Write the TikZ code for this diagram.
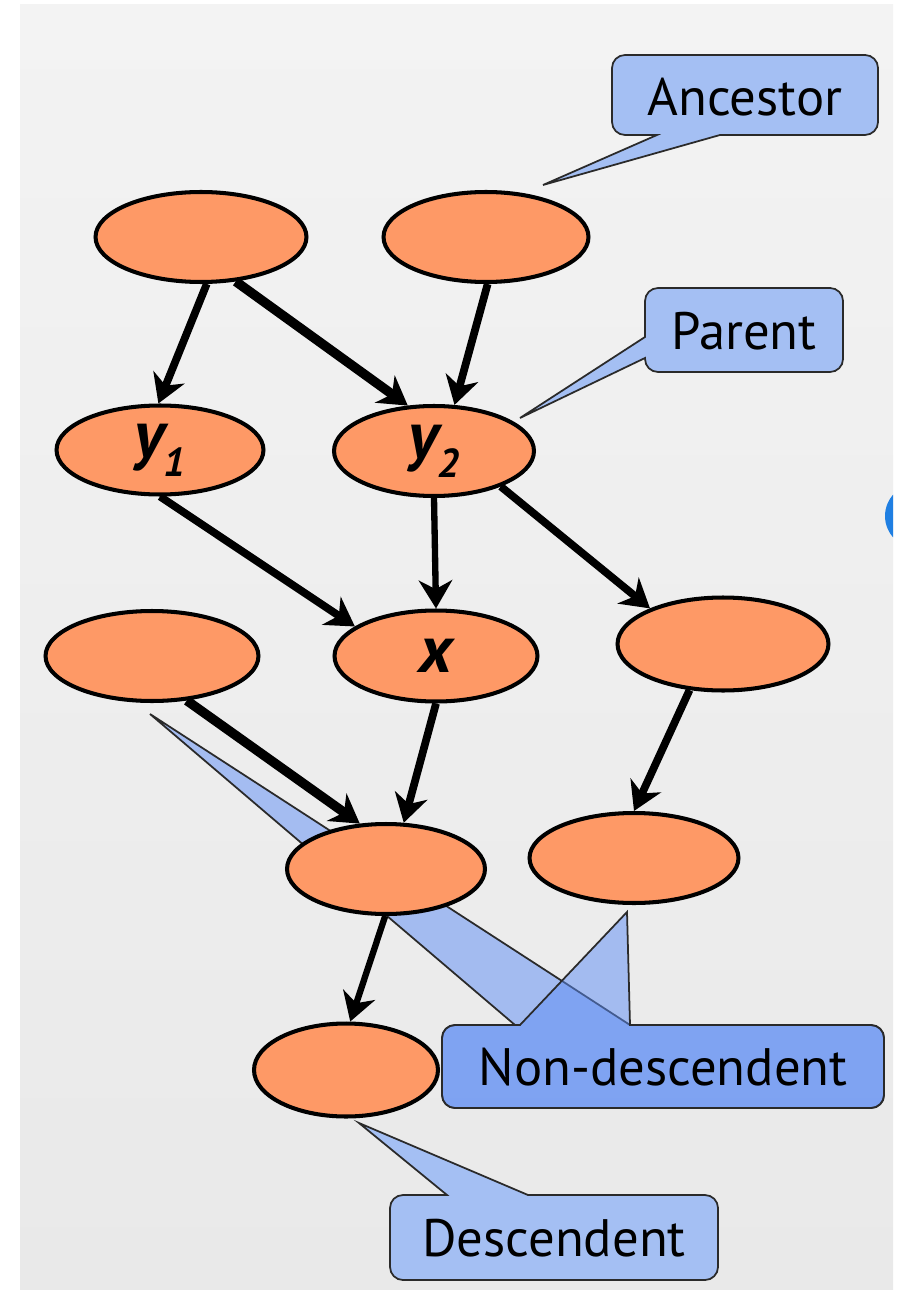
\documentclass[tikz,border=0pt]{standalone}
\usepackage{fontspec}
\setmainfont{PT Sans}
\usetikzlibrary{shapes.geometric,arrows.meta}
\definecolor{panelTop}{HTML}{F3F3F3}
\definecolor{panelBot}{HTML}{E9E9E9}
\definecolor{nodefill}{HTML}{FE9966}
\definecolor{callfill}{RGB}{164,191,243}
\definecolor{callblue}{RGB}{92,140,245}
\definecolor{calledge}{HTML}{2A2A2A}
\definecolor{dotblue}{HTML}{1F7FE2}

\begin{document}
\begin{tikzpicture}[x=0.02cm,y=-0.02cm,
  var/.style={ellipse, draw=black, line width=2.3pt, fill=nodefill, inner sep=0pt,
    font=\fontsize{38}{38}\selectfont\bfseries\itshape},
  arr/.style={line width=4.4pt, -{Stealth[length=16pt,width=19pt,inset=5pt]}},
  arrthick/.style={arr, line width=5.4pt},
  arrthin/.style={arr, line width=3.6pt},
  callout/.style={draw=calledge, line width=1pt, fill=callfill},
  ndcallout/.style={draw=calledge, line width=1pt, fill=callblue, fill opacity=0.5},
  tag/.style={font=\fontsize{30}{30}\selectfont, inner sep=0pt}
]
\useasboundingbox (0,0) rectangle (899,1290);
\fill[white] (0,0) rectangle (899,1290);
\shade[top color=panelTop, bottom color=panelBot] (20,5) rectangle (893,1290);

% blue marker cut off by the panel edge
\begin{scope}
  \clip (20,5) rectangle (893,1290);
  \fill[dotblue] (917,516) circle[radius=32];
\end{scope}

% callout balloons (drawn first, so the ellipses lie on top)
\draw[callout] (543,185) -- (720,135) [rounded corners=0.26cm] -- (878,135)
  -- (878,55) -- (612,55) -- (612,135) [sharp corners] -- (657,135) -- cycle;
\draw[callout] (520,418) -- (645,358) [rounded corners=0.26cm] -- (645,372)
  -- (843,372) -- (843,288) -- (645,288) [sharp corners] -- (645,337) -- cycle;
\draw[callout] (359,1123) -- (528,1195) [rounded corners=0.26cm] -- (718,1195)
  -- (718,1280) -- (390,1280) -- (390,1195) [sharp corners] -- (447,1195) -- cycle;
\draw[ndcallout] (150,714) -- (630,1025) [rounded corners=0.26cm] -- (884,1025)
  -- (884,1108) -- (442,1108) -- (442,1025) [sharp corners] -- (515,1025) -- cycle;
\draw[ndcallout] (627,912) -- (630,1025) [rounded corners=0.26cm] -- (884,1025)
  -- (884,1108) -- (442,1108) -- (442,1025) [sharp corners] -- (520,1025) -- cycle;

% variables
\node[var, minimum width=4.22cm, minimum height=1.80cm] (a1) at (201,237) {};
\node[var, minimum width=4.10cm, minimum height=1.80cm] (a2) at (486,237) {};
\node[var, minimum width=4.14cm, minimum height=1.78cm] (y1) at (160,450)
  {y\kern-1pt\raisebox{-11pt}{\fontsize{23}{23}\selectfont 1}};
\node[var, minimum width=4.00cm, minimum height=1.80cm] (y2) at (434,451)
  {y\kern-1pt\raisebox{-11pt}{\fontsize{23}{23}\selectfont 2}};
\node[var, minimum width=4.26cm, minimum height=1.80cm] (l) at (152,656) {};
\node[var, minimum width=4.06cm, minimum height=1.82cm] (x) at (436,656) {x};
\node[var, minimum width=4.22cm, minimum height=1.86cm] (r) at (723,644) {};
\node[var, minimum width=3.96cm, minimum height=1.80cm] (c) at (386,869) {};
\node[var, minimum width=4.18cm, minimum height=1.80cm] (d) at (634,858) {};
\node[var, minimum width=3.68cm, minimum height=1.86cm] (e) at (346,1070) {};

% dependencies
\draw[arr]      (a1.-83) -- (y1.92);
\draw[arrthick] (a1.-52) -- (y2.120);
\draw[arr]      (a2.-88) -- (y2.66);
\draw[arr]      (y1.-90) -- (x.160);
\draw[arrthin]  (y2.-90) -- (x.90);
\draw[arr]      (y2.-28) -- (r.154);
\draw[arrthick] (l.-52)  -- (c.120);
\draw[arr]      (x.-90)  -- (c.69);
\draw[arr]      (r.-126) -- (d.90);
\draw[arrthin]  (c.-91)  -- (e.85);

% balloon texts
\node[tag] (anc)     at (745,97)   {Ancestor};
\node[tag] (par)     at (744,331)  {Parent};
\node[tag] (nondesc) at (663,1067) {Non-descendent};
\node[tag] (desc)    at (554,1238) {Descendent};
\end{tikzpicture}
\end{document}
